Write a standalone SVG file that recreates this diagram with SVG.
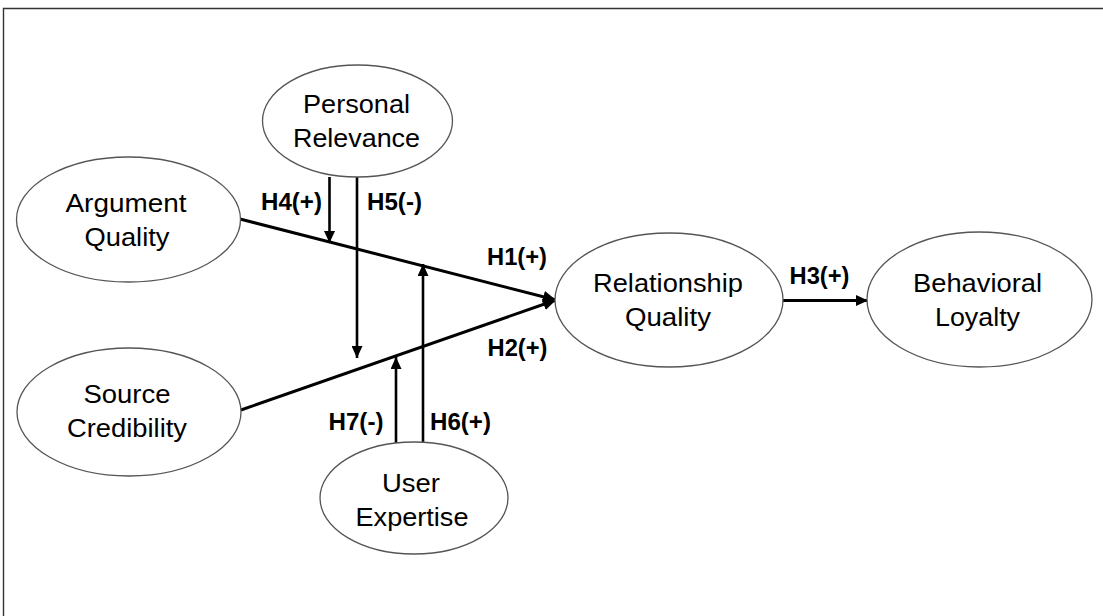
<svg xmlns="http://www.w3.org/2000/svg" width="1103" height="616" viewBox="0 0 1103 616">
  <style>
    .node ellipse { fill: #ffffff; stroke: #555555; stroke-width: 1.3; }
    .node text { font-family: "Liberation Sans", Arial, sans-serif; font-size: 25px; fill: #000000; text-anchor: middle; }
    .lbl { font-family: "Liberation Sans", Arial, sans-serif; font-size: 23px; font-weight: bold; fill: #000000; text-anchor: middle; }
    .main { stroke: #000000; stroke-width: 3; fill: none; }
    .mod { stroke: #000000; stroke-width: 2.6; fill: none; }
  </style>
  <defs>
    <marker id="ahBig" markerUnits="userSpaceOnUse" markerWidth="14" markerHeight="12" refX="13" refY="6" orient="auto">
      <path d="M0,0 L13,6 L0,12 Z" fill="#000000"/>
    </marker>
    <marker id="ahSmall" markerUnits="userSpaceOnUse" markerWidth="13" markerHeight="11" refX="12" refY="5.5" orient="auto">
      <path d="M0,0 L12,5.5 L0,11 Z" fill="#000000"/>
    </marker>
  </defs>

  <rect x="0" y="0" width="1103" height="616" fill="#ffffff"/>
  <path d="M3.5,616 L3.5,8.5 L1103,8.5" fill="none" stroke="#333333" stroke-width="1.4"/>

  <g id="connectors">
    <line class="main" x1="240" y1="219" x2="556" y2="300" marker-end="url(#ahBig)"/>
    <line class="main" x1="241" y1="410" x2="556" y2="300" marker-end="url(#ahBig)"/>
    <line class="mod" x1="329.5" y1="177" x2="329.5" y2="243" marker-end="url(#ahSmall)"/>
    <line class="mod" x1="357" y1="177" x2="357" y2="358" marker-end="url(#ahSmall)"/>
    <line class="mod" x1="423" y1="443" x2="423" y2="264" marker-end="url(#ahSmall)"/>
    <line class="mod" x1="396" y1="443" x2="396" y2="357" marker-end="url(#ahSmall)"/>
    <line class="main" x1="783" y1="300.5" x2="868" y2="300.5" marker-end="url(#ahSmall)"/>
  </g>

  <g id="labels">
    <text class="lbl" x="291.5" y="210" textLength="61" lengthAdjust="spacingAndGlyphs">H4(+)</text>
    <text class="lbl" x="394.5" y="210" textLength="55" lengthAdjust="spacingAndGlyphs">H5(-)</text>
    <text class="lbl" x="517" y="265" textLength="60" lengthAdjust="spacingAndGlyphs">H1(+)</text>
    <text class="lbl" x="517.5" y="356" textLength="60" lengthAdjust="spacingAndGlyphs">H2(+)</text>
    <text class="lbl" x="356" y="430" textLength="55" lengthAdjust="spacingAndGlyphs">H7(-)</text>
    <text class="lbl" x="460.5" y="430" textLength="61" lengthAdjust="spacingAndGlyphs">H6(+)</text>
    <text class="lbl" x="819.5" y="284" textLength="60" lengthAdjust="spacingAndGlyphs">H3(+)</text>
  </g>

  <g id="node-personal-relevance" class="node">
    <ellipse cx="357.5" cy="121" rx="95" ry="56"/>
    <text x="356.5" y="113" textLength="107" lengthAdjust="spacingAndGlyphs">Personal</text>
    <text x="356.5" y="147" textLength="127" lengthAdjust="spacingAndGlyphs">Relevance</text>
  </g>

  <g id="node-argument-quality" class="node">
    <ellipse cx="128.5" cy="219.5" rx="112" ry="62.5"/>
    <text x="126" y="212" textLength="121" lengthAdjust="spacingAndGlyphs">Argument</text>
    <text x="127" y="246" textLength="85" lengthAdjust="spacingAndGlyphs">Quality</text>
  </g>

  <g id="node-source-credibility" class="node">
    <ellipse cx="129" cy="412" rx="112" ry="64"/>
    <text x="127" y="403" textLength="87" lengthAdjust="spacingAndGlyphs">Source</text>
    <text x="127" y="437" textLength="120" lengthAdjust="spacingAndGlyphs">Credibility</text>
  </g>

  <g id="node-relationship-quality" class="node">
    <ellipse cx="669" cy="300" rx="114" ry="67"/>
    <text x="668" y="292" textLength="150" lengthAdjust="spacingAndGlyphs">Relationship</text>
    <text x="668" y="326" textLength="86" lengthAdjust="spacingAndGlyphs">Quality</text>
  </g>

  <g id="node-behavioral-loyalty" class="node">
    <ellipse cx="979.5" cy="299.5" rx="112.5" ry="67.5"/>
    <text x="977.5" y="292" textLength="129" lengthAdjust="spacingAndGlyphs">Behavioral</text>
    <text x="977.5" y="326" textLength="85" lengthAdjust="spacingAndGlyphs">Loyalty</text>
  </g>

  <g id="node-user-expertise" class="node">
    <ellipse cx="414" cy="498" rx="94" ry="56"/>
    <text x="411" y="492" textLength="58" lengthAdjust="spacingAndGlyphs">User</text>
    <text x="412" y="526" textLength="113" lengthAdjust="spacingAndGlyphs">Expertise</text>
  </g>
</svg>
